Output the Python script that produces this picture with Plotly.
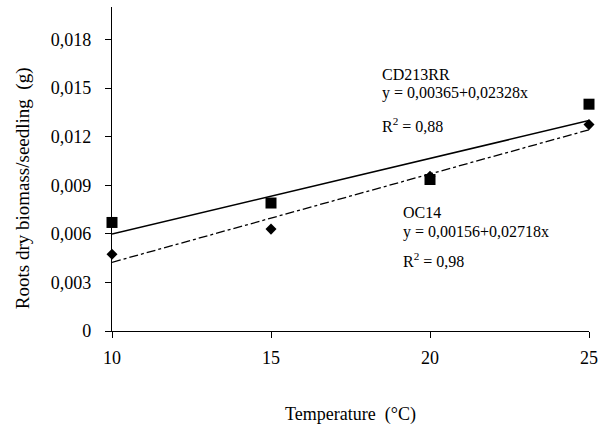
import numpy as np
import plotly.graph_objects as go

temperature = [10, 15, 20, 25]
cd213rr = [0.0067, 0.0079, 0.00935, 0.0140]
oc14 = [0.00474, 0.00629, 0.00955, 0.01274]
y_tickvals = [0, 0.003, 0.006, 0.009, 0.012, 0.015, 0.018]
y_ticktext = ["0", "0,003", "0,006", "0,009", "0,012", "0,015", "0,018"]
x_tickvals = [10, 15, 20, 25]

FONT = "Liberation Serif, Times New Roman, serif"

def fit(xs, ys):
    m, b = np.polyfit(xs, ys, 1)
    xe = [min(xs), max(xs)]
    return xe, [b + m * v for v in xe]

fig = go.Figure()
xe, ye = fit(temperature, cd213rr)
fig.add_trace(go.Scatter(x=xe, y=ye, mode="lines", line=dict(color="black", width=1.5), showlegend=False))
xe, ye = fit(temperature, oc14)
fig.add_trace(go.Scatter(x=xe, y=ye, mode="lines", line=dict(color="black", width=1.3, dash="dashdot"), showlegend=False))
fig.add_trace(go.Scatter(x=temperature, y=cd213rr, mode="markers",
                         marker=dict(symbol="square", size=11, color="black"), showlegend=False))
fig.add_trace(go.Scatter(x=temperature, y=oc14, mode="markers",
                         marker=dict(symbol="diamond", size=8.5, color="black"), showlegend=False))

ann = [
    (18.42, 0.01583, "CD213RR"),
    (18.42, 0.01472, "y = 0,00365+0,02328x"),
    (18.42, 0.01274, "R<sup>2</sup> = 0,88"),
    (19.10, 0.00730, "OC14"),
    (19.10, 0.00612, "y = 0,00156+0,02718x"),
    (19.10, 0.00439, "R<sup>2</sup> = 0,98"),
]
for x, y, t in ann:
    fig.add_annotation(x=x, y=y, text=t, showarrow=False, xanchor="left", yanchor="middle",
                       font=dict(family=FONT, size=16, color="black"))

fig.add_annotation(xref="paper", yref="paper", x=-0.185, y=0.44, text="Roots dry biomass/seedling\u00a0 (g)",
                   textangle=-90, showarrow=False, xanchor="center", yanchor="middle",
                   font=dict(family=FONT, size=19, color="black"))
fig.add_annotation(xref="paper", yref="paper", x=0.5, y=-0.258, text="Temperature\u00a0 (°C)",
                   showarrow=False, xanchor="center", yanchor="middle",
                   font=dict(family=FONT, size=18, color="black"))

fig.update_layout(
    width=605, height=427,
    margin=dict(l=112, r=10, t=7, b=96),
    paper_bgcolor="white", plot_bgcolor="white",
    font=dict(family=FONT, size=18, color="black"),
)
fig.update_xaxes(range=[10, 25], tickvals=x_tickvals, ticks="outside", ticklen=6, tickwidth=1,
                 tickcolor="black", showline=True, linecolor="black", linewidth=1.3,
                 showgrid=False, zeroline=False, tickfont=dict(family=FONT, size=18),
                 ticklabelstandoff=4)
fig.update_yaxes(range=[0, 0.02], tickvals=y_tickvals, ticktext=y_ticktext, ticks="outside", ticklen=6,
                 tickwidth=1, tickcolor="black", showline=True, linecolor="black", linewidth=1.3,
                 showgrid=False, zeroline=False, tickfont=dict(family=FONT, size=18),
                 ticklabelstandoff=10)
fig.update_traces(cliponaxis=False)

fig.write_html("out.html", config={"displayModeBar": False},
               post_script="document.body.style.margin='0';document.body.style.overflow='hidden';")
